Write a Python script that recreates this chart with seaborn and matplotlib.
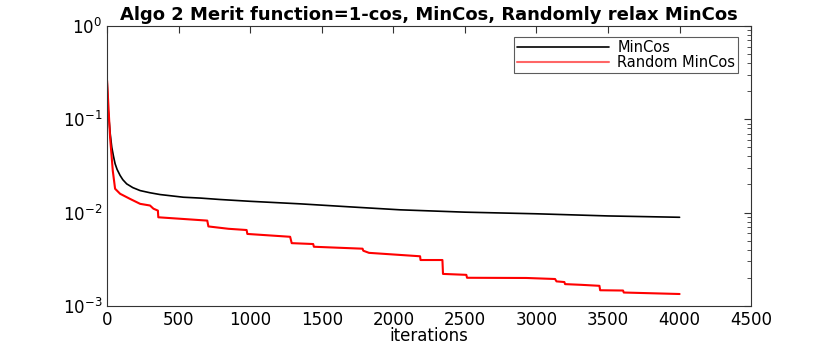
import numpy as np
import pandas as pd
import matplotlib
matplotlib.use("Agg")
import matplotlib.pyplot as plt
import seaborn as sns
from matplotlib.ticker import LogLocator, NullFormatter

# values
mincos_iter = [0, 7, 14, 22, 33, 45, 56, 70, 91, 110, 137, 180, 231, 300, 370,
               533, 650, 790, 1000, 1349, 1700, 2047, 2500, 3000, 3500, 4000]
mincos_val = [0.27, 0.13, 0.098, 0.07, 0.05, 0.04, 0.0334, 0.029, 0.025, 0.0225,
              0.0203, 0.0185, 0.0172, 0.0163, 0.0156, 0.0146, 0.0143, 0.0138,
              0.0132, 0.0124, 0.0115, 0.0107, 0.0101, 0.0097, 0.0092, 0.0089]

random_iter = [0, 21, 40, 56, 91, 161, 231, 300, 324, 355, 358, 700, 708, 848,
               975, 980, 1279, 1290, 1440, 1445, 1785, 1790, 1830, 2187, 2190,
               2343, 2347, 2510, 2515, 2930, 3130, 3140, 3195, 3200, 3315, 3440,
               3445, 3605, 3610, 4000]
random_val = [0.26, 0.064, 0.028, 0.018, 0.0159, 0.014, 0.0124, 0.0119, 0.011,
              0.0105, 0.0089, 0.0082, 0.0071, 0.0067, 0.0065, 0.0059, 0.0055,
              0.0047, 0.0046, 0.0043, 0.0041, 0.0039, 0.0037, 0.0034, 0.0031,
              0.0031, 0.0022, 0.00215, 0.0020, 0.00199, 0.00194, 0.00183,
              0.0018, 0.00171, 0.00168, 0.00164, 0.00147, 0.00146, 0.00139,
              0.00134]

sns.set_style("white")
plt.rcParams['font.family'] = ['DejaVu Sans']
plt.rcParams['text.color'] = 'black'
plt.rcParams['axes.labelcolor'] = 'black'
plt.rcParams['xtick.labelcolor'] = 'black'
plt.rcParams['ytick.labelcolor'] = 'black'

fig = plt.figure(figsize=(8.3, 3.46), dpi=100)
ax = fig.add_axes([0.129, 0.116, 0.776, 0.809])

sns.lineplot(x=mincos_iter, y=mincos_val, color="black", linewidth=1.2,
             estimator=None, sort=False, label="MinCos", ax=ax)
sns.lineplot(x=random_iter, y=random_val, color="red", linewidth=1.5,
             estimator=None, sort=False, label="Random MinCos", ax=ax)

ax.set_yscale("log")
ax.set_ylim(1e-3, 1)
ax.set_xlim(0, 4500)
ax.set_xticks(np.arange(0, 4501, 500))
ax.yaxis.set_major_locator(LogLocator(base=10, numticks=10))
ax.yaxis.set_minor_locator(LogLocator(base=10, subs=np.arange(2, 10), numticks=10))
ax.yaxis.set_minor_formatter(NullFormatter())

ax.tick_params(which="both", direction="in", top=True, right=True,
               labelsize=12, color="#333333")
ax.tick_params(which="major", length=5, width=0.8)
ax.tick_params(which="minor", length=3, width=0.6)
for s in ax.spines.values():
    s.set_color("#333333")
    s.set_linewidth(0.8)

ax.set_xlabel("iterations", fontsize=12, labelpad=-1)
ax.set_title("Algo 2 Merit function=1-cos, MinCos, Randomly relax MinCos",
             fontsize=13, fontweight="bold", pad=4)

leg = ax.legend(loc="upper right", bbox_to_anchor=(0.98, 0.96), fontsize=10.5,
                frameon=True, fancybox=False, edgecolor="#333333",
                borderpad=0.2, labelspacing=0.0, handlelength=6.3,
                handletextpad=0.6, borderaxespad=0)
leg.get_frame().set_linewidth(0.8)
leg.legend_handles[1].set_alpha(0.6)

fig.savefig("out.png", dpi=100)
